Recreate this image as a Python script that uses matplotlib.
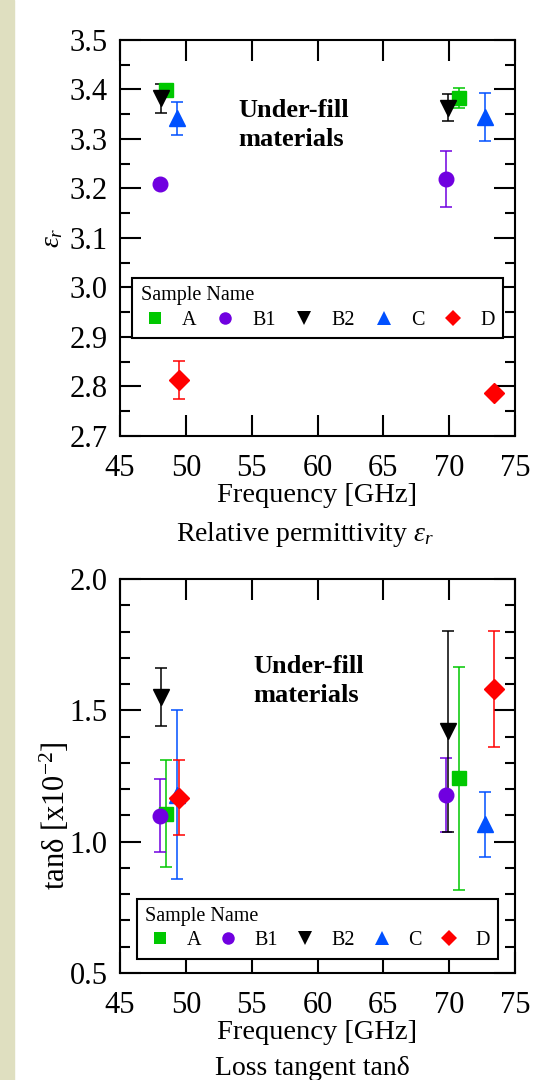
import matplotlib
matplotlib.use('Agg')
import matplotlib.pyplot as plt
from matplotlib.lines import Line2D
from matplotlib.patches import Rectangle
from matplotlib.ticker import MultipleLocator, FormatStrFormatter

plt.rcParams['font.family'] = ['Liberation Serif', 'DejaVu Serif']
plt.rcParams['mathtext.fontset'] = 'custom'
plt.rcParams['mathtext.rm'] = 'Liberation Serif'
plt.rcParams['mathtext.it'] = 'Liberation Serif:italic'

# ---------------------------------------------------------------------------
# Data read off the reference (two measurement bands per sample)
# ---------------------------------------------------------------------------
samples = ['A', 'B1', 'B2', 'C', 'D']
colors = ['#00c800', '#7000e0', '#000000', '#0050ff', '#ff0000']
markers = ['s', 'o', 'v', '^', 'D']

freq_lo = [48.5, 48.05, 48.1, 49.35, 49.5]      # GHz, ~50 GHz band
freq_hi = [70.75, 69.75, 69.9, 72.75, 73.4]     # GHz, ~70 GHz band

eps_lo = [3.399, 3.209, 3.382, 3.342, 2.813]
eps_lo_err = [0.0, 0.008, 0.03, 0.033, 0.038]
eps_hi = [3.383, 3.219, 3.363, 3.344, 2.787]
eps_hi_err = [0.02, 0.057, 0.027, 0.048, 0.0]

tan_lo = [1.107, 1.098, 1.552, 1.178, 1.168]
tan_lo_err = [0.204, 0.139, 0.111, 0.322, 0.143]
tan_hi = [1.241, 1.178, 1.42, 1.066, 1.581]
tan_hi_err = [0.425, 0.14, 0.383, 0.124, 0.222]

# marker sizes (pt) in plot / legend
ms_plot = [10.5, 10.5, 12, 12, 10.5]
ms_leg = [8.5, 9, 10.5, 10.5, 8.5]

FS = 22


def draw_series(ax, lo, lo_err, hi, hi_err):
    for i, name in enumerate(samples):
        ax.errorbar([freq_lo[i], freq_hi[i]], [lo[i], hi[i]],
                    yerr=[lo_err[i], hi_err[i]], fmt=markers[i], color=colors[i],
                    ms=ms_plot[i], elinewidth=1.1, capsize=4.5, capthick=1.1)


def style_axes(ax, ylim, ymajor, yminor):
    ax.set_xlim(45, 75)
    ax.set_ylim(*ylim)
    ax.xaxis.set_major_locator(MultipleLocator(5))
    ax.yaxis.set_major_locator(MultipleLocator(ymajor))
    ax.yaxis.set_minor_locator(MultipleLocator(yminor))
    ax.yaxis.set_major_formatter(FormatStrFormatter('%.1f'))
    ax.tick_params(which='both', direction='in', top=True, right=True, width=1.5)
    ax.tick_params(which='major', length=15)
    ax.tick_params(which='minor', length=7.5)
    ax.tick_params(axis='x', labelsize=FS, pad=13)
    ax.tick_params(axis='y', labelsize=FS, pad=9)
    for s in ax.spines.values():
        s.set_linewidth(1.5)
    ax.set_xlabel('Frequency [GHz]', fontsize=20.5, labelpad=0)


def add_legend(ax, x0, y1, w):
    handles = [Line2D([], [], ls='none', marker=markers[i], color=colors[i],
                      ms=ms_leg[i], mew=0) for i in range(len(samples))]
    leg = ax.legend(handles, samples, title='Sample Name', ncol=5, mode='expand',
                    loc='upper left', bbox_to_anchor=(x0, y1 - 0.15, w, 0.15),
                    borderaxespad=0, fontsize=14.5, title_fontsize=14.5,
                    alignment='left', fancybox=False, framealpha=1,
                    edgecolor='black', handlelength=1.4, handletextpad=0.64,
                    borderpad=0.4, labelspacing=0.26, columnspacing=0.5)
    leg.get_frame().set_linewidth(1.5)


fig = plt.figure(figsize=(5.6, 10.8), dpi=100)
fig.add_artist(Rectangle((0, 0), 13.5 / 560, 1, transform=fig.transFigure,
                         color='#dfdfc0', zorder=-1))

# --- Relative permittivity --------------------------------------------------
ax1 = fig.add_axes([0.2143, 0.5963, 0.7054, 0.3667])
draw_series(ax1, eps_lo, eps_lo_err, eps_hi, eps_hi_err)
style_axes(ax1, (2.7, 3.5), 0.1, 0.05)
ax1.set_ylabel(r'$\varepsilon_r$', fontsize=20)
ax1.yaxis.set_label_coords(-0.139, 0.5)
ax1.text(0.30, 0.786, 'Under-fill\nmaterials', transform=ax1.transAxes,
         ha='left', va='center', fontsize=19, fontweight='bold', linespacing=1.35)
add_legend(ax1, 0.0316, 0.398, 0.937)
fig.text(0.5437, 0.499, r'Relative permittivity $\varepsilon_r$',
         ha='center', va='baseline', fontsize=20)

# --- Loss tangent -------------------------------------------------------------
ax2 = fig.add_axes([0.2143, 0.0991, 0.7054, 0.3648])
draw_series(ax2, tan_lo, tan_lo_err, tan_hi, tan_hi_err)
style_axes(ax2, (0.5, 2.0), 0.5, 0.1)
ax2.set_ylabel(r'tanδ [x10$^{-2}$]', fontsize=22)
ax2.yaxis.set_label_coords(-0.1215, 0.40)
ax2.text(0.338, 0.741, 'Under-fill\nmaterials', transform=ax2.transAxes,
         ha='left', va='center', fontsize=19, fontweight='bold', linespacing=1.35)
add_legend(ax2, 0.044, 0.1875, 0.913)
fig.text(0.558, 1 - 1075 / 1080, 'Loss tangent tanδ', ha='center', va='baseline',
         fontsize=20)

fig.savefig('out.png', dpi=100)
